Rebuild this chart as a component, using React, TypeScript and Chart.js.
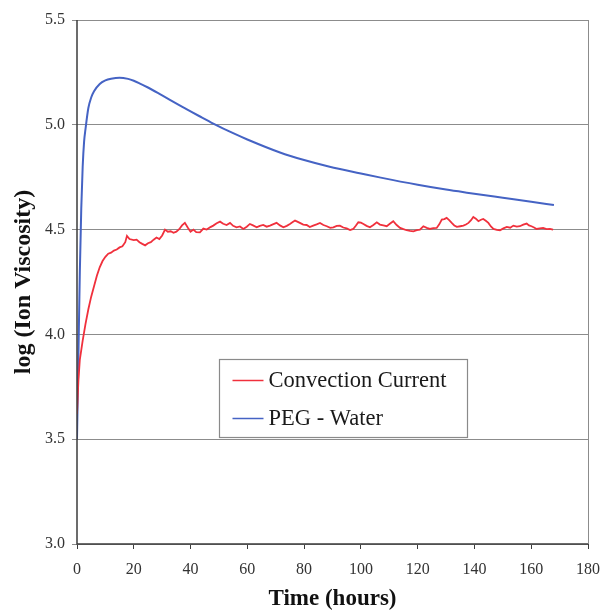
import React, { useEffect, useRef } from "react";
import { Chart, registerables } from "chart.js";

Chart.register(...registerables);

const xTicks = [0, 20, 40, 60, 80, 100, 120, 140, 160, 180];
const yTicks = [3.0, 3.5, 4.0, 4.5, 5.0, 5.5];

const pegTime = [0, 0.5, 1, 1.5, 2, 2.5, 3, 4, 5, 6, 8, 10, 12, 15, 18, 20, 22, 25, 30, 36, 40, 43, 48, 55, 60, 71.5, 80, 89, 100, 107, 120, 130, 138, 150, 160, 168];
const pegValue = [3.5, 3.9, 4.3, 4.6, 4.8, 4.92, 4.98, 5.08, 5.13, 5.16, 5.195, 5.212, 5.22, 5.225, 5.219, 5.21, 5.198, 5.178, 5.14, 5.094, 5.064, 5.042, 5.006, 4.96, 4.93, 4.868, 4.832, 4.8, 4.768, 4.748, 4.714, 4.691, 4.675, 4.652, 4.633, 4.617];

const convTime = [
  0, 0.5, 1, 2, 3, 4, 5, 6, 7, 8, 9, 10, 11, 12, 13, 14, 15, 16, 17, 17.6, 18.5, 20, 21, 22, 23, 24, 25, 26, 27, 28, 29, 30, 31, 32, 33, 34, 35, 36, 37, 38, 39, 40, 41, 42,
  43.3, 44.5, 45.7, 47, 48, 49.2, 50.4, 51.5, 52.7, 53.9, 55, 56.2, 57.4, 58.6, 59.8, 60.9, 62, 63.3, 64.4, 65.6, 66.8, 68, 69.2, 70.3, 71.5, 72.7, 73.9, 75, 76, 76.8, 77.6, 78.5, 79.7, 80.9, 82, 83.2, 84.4, 85.6, 86.8, 88, 89.2, 90.3, 91.5, 92.6, 93.8, 95, 96.2, 97.3, 98.2, 99.1, 100, 100.9, 102, 103.2, 104.4, 105.6,
  106.7, 107.9, 109.1, 110.2, 111.4, 112.6, 113.8, 115, 116.1, 117.3, 118.5, 119.7, 120.8, 122, 123.2, 124.3, 125.5, 126.7, 127.6, 128.5, 129.4, 130.2, 131.1, 132, 132.9, 133.8, 135, 136.1, 137, 137.9, 138.8, 139.6, 140.5, 141.4, 142.3, 143.1, 144, 144.9, 145.8, 146.7, 147.9, 149, 150.2, 151.4, 152.6, 153.7, 154.9, 156, 157.2, 158.4, 159.2, 160.1, 161, 161.9, 163, 164.2, 165.4, 166.6, 167.7
];
const convValue = [
  3.62, 3.78, 3.88, 3.97, 4.05, 4.12, 4.18, 4.23, 4.28, 4.32, 4.35, 4.37, 4.385, 4.39, 4.4, 4.405, 4.415, 4.42, 4.44, 4.47, 4.455, 4.45, 4.452, 4.44, 4.432, 4.425, 4.435, 4.44, 4.452, 4.462, 4.455, 4.472, 4.5, 4.49, 4.492, 4.485, 4.49, 4.502, 4.52, 4.532, 4.51, 4.49, 4.5, 4.488,
  4.487, 4.505, 4.5, 4.512, 4.519, 4.53, 4.538, 4.528, 4.522, 4.532, 4.518, 4.511, 4.515, 4.503, 4.514, 4.527, 4.52, 4.511, 4.518, 4.522, 4.514, 4.519, 4.526, 4.532, 4.52, 4.511, 4.518, 4.527, 4.536, 4.543, 4.538, 4.532, 4.524, 4.522, 4.512, 4.519, 4.525, 4.532, 4.522, 4.516, 4.508, 4.511, 4.518, 4.519, 4.51, 4.506, 4.498, 4.503, 4.518, 4.535, 4.533, 4.527, 4.518, 4.511, 4.522, 4.535,
  4.524, 4.52, 4.516, 4.528, 4.54, 4.522, 4.508, 4.502, 4.497, 4.494, 4.492, 4.497, 4.5, 4.516, 4.508, 4.503, 4.507, 4.508, 4.525, 4.548, 4.55, 4.556, 4.545, 4.532, 4.52, 4.513, 4.516, 4.519, 4.524, 4.532, 4.545, 4.56, 4.552, 4.54, 4.547, 4.551, 4.542, 4.532, 4.515, 4.503, 4.499, 4.497, 4.506, 4.513, 4.509, 4.519, 4.514, 4.516, 4.524, 4.529, 4.52, 4.516, 4.51, 4.503, 4.506, 4.508, 4.502, 4.503, 4.5
];

const seriesLabels = ["Convection Current", "PEG - Water"];
const seriesColors = ["#f0303c", "#4563c4"];

const legendBox = {
  id: "legendBox",
  afterDraw(chart: any) {
    const ctx = chart.ctx;
    const xs = chart.scales.x;
    const ys = chart.scales.y;
    const left = Math.round(xs.getPixelForValue(50.0)) + 0.5;
    const right = Math.round(xs.getPixelForValue(137.4)) + 0.5;
    const top = Math.round(ys.getPixelForValue(3.883)) + 0.5;
    const bottom = Math.round(ys.getPixelForValue(3.51)) + 0.5;
    ctx.save();
    ctx.fillStyle = "#ffffff";
    ctx.fillRect(left, top, right - left, bottom - top);
    ctx.strokeStyle = "#8a8a8a";
    ctx.lineWidth = 1.2;
    ctx.strokeRect(left, top, right - left, bottom - top);
    ctx.font = "22.5px 'Liberation Serif', serif";
    ctx.textBaseline = "middle";
    const rows = [top + 21, top + 59];
    chart.data.datasets.forEach((ds: any, i: number) => {
      const y = rows[i];
      ctx.strokeStyle = ds.borderColor;
      ctx.lineWidth = 1.5;
      ctx.beginPath();
      ctx.moveTo(left + 13, y);
      ctx.lineTo(left + 44, y);
      ctx.stroke();
      ctx.fillStyle = "#1a1a1a";
      ctx.fillText(ds.label, left + 49, y + 1);
    });
    ctx.restore();
  },
};

const frame = {
  id: "frame",
  afterDatasetsDraw(chart: any) {
    const { left, right, top, bottom } = chart.chartArea;
    const ctx = chart.ctx;
    ctx.save();
    ctx.strokeStyle = "#8c8c8c";
    ctx.lineWidth = 1;
    ctx.beginPath();
    ctx.moveTo(right + 0.5, top);
    ctx.lineTo(right + 0.5, bottom);
    ctx.stroke();
    ctx.strokeStyle = "#3c3c3c";
    ctx.lineWidth = 1.5;
    ctx.beginPath();
    ctx.moveTo(left, top);
    ctx.lineTo(left, bottom);
    ctx.lineTo(right, bottom);
    ctx.stroke();
    ctx.restore();
  },
};

export default function App() {
  const ref = useRef<HTMLCanvasElement>(null);
  useEffect(() => {
    if (!ref.current) return;
    const conv = convTime.map((t, i) => ({ x: t, y: convValue[i] }));
    const peg = pegTime.map((t, i) => ({ x: t, y: pegValue[i] }));
    const chart = new Chart(ref.current, {
      type: "line",
      data: {
        datasets: [
          { label: seriesLabels[0], data: conv, borderColor: seriesColors[0], borderWidth: 1.8, pointRadius: 0, tension: 0, fill: false },
          { label: seriesLabels[1], data: peg, borderColor: seriesColors[1], borderWidth: 2, pointRadius: 0, tension: 0.4, cubicInterpolationMode: "monotone", fill: false },
        ],
      },
      options: {
        animation: false,
        responsive: false,
        maintainAspectRatio: false,
        layout: { padding: { left: 0, top: 20, right: 14, bottom: 0 } },
        plugins: { legend: { display: false }, tooltip: { enabled: false } },
        scales: {
          x: {
            type: "linear",
            min: 0,
            max: 180,
            afterBuildTicks: (s: any) => { s.ticks = xTicks.map((v) => ({ value: v })); },
            afterFit: (s: any) => { s.height = 69; s.paddingRight = 0; s.paddingLeft = 0; },
            grid: { drawOnChartArea: false, drawTicks: true, tickLength: 5, color: "#3c3c3c" },
            border: { display: false },
            ticks: { color: "#333", padding: 11, font: { family: "'Liberation Serif', serif", size: 16 }, maxRotation: 0 },
            title: { display: true, text: "Time (hours)", color: "#111", padding: { top: 0, bottom: 0 }, font: { family: "'Liberation Serif', serif", size: 23, weight: "bold" } },
          },
          y: {
            min: 3.0,
            max: 5.5,
            afterBuildTicks: (s: any) => { s.ticks = yTicks.map((v) => ({ value: v })); },
            afterFit: (s: any) => { s.width = 77; s.paddingTop = 0; s.paddingBottom = 0; },
            grid: { drawOnChartArea: true, drawTicks: true, tickLength: 5, color: "#8c8c8c", lineWidth: 1 },
            border: { display: false },
            ticks: { color: "#333", padding: 7, font: { family: "'Liberation Serif', serif", size: 16 }, callback: (v: any) => Number(v).toFixed(1) },
            title: { display: true, text: "log (Ion Viscosity)", color: "#111", padding: { top: 9, bottom: 0 }, font: { family: "'Liberation Serif', serif", size: 24, weight: "bold" } },
          },
        },
      },
      plugins: [frame, legendBox],
    });
    return () => chart.destroy();
  }, []);
  return (
    <div style={{ position: "absolute", left: 0, top: 0, width: 602, height: 613, background: "#fff" }}>
      <canvas ref={ref} width={602} height={613} style={{ display: "block" }} />
    </div>
  );
}
